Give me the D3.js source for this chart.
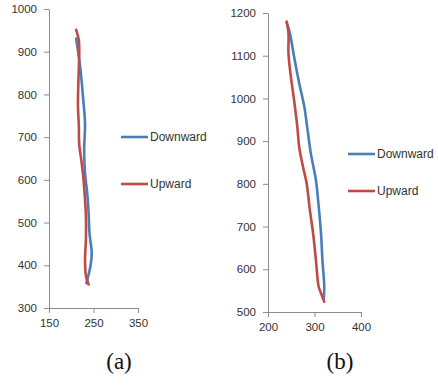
<!DOCTYPE html>
<html>
<head>
<meta charset="utf-8">
<script src="https://cdn.jsdelivr.net/npm/d3@7"></script>
<style>
  body { margin: 0; background: #fff; }
  svg { display: block; }
  .tick text { font-family: "Liberation Sans", Arial, sans-serif; font-size: 11.5px; fill: #333; }
  .legend text { font-family: "Liberation Sans", Arial, sans-serif; font-size: 12px; fill: #333; }
  .caption { font-family: "Liberation Serif", "DejaVu Serif", serif; font-size: 23px; fill: #111; }
</style>
</head>
<body>
<div id="chart"></div>
<script>
// panel (a) data: [x, height]
const aDownward = [[211,931],[220,865],[227,787],[231,732],[229,670],[231,615],[236,568],[239,522],[241,475],[246,428],[243,397],[237,370],[234,358]];
const aUpward = [[211,951],[217,927],[218,904],[216,828],[215,775],[217,728],[218,682],[222,651],[227,607],[231,553],[233,515],[233,461],[231,414],[233,375],[239,355]];
// panel (b) data
const bDownward = [[240,1178],[247,1153],[256,1098],[267,1036],[278,981],[285,927],[292,872],[303,809],[309,747],[314,684],[317,622],[321,559],[320,531]];
const bUpward = [[240,1180],[244,1153],[244,1106],[249,1052],[256,997],[263,934],[267,887],[275,841],[283,802],[290,739],[297,684],[303,622],[309,559],[314,544],[321,524]];

const aXTicks = [150, 250, 350];
const aYTicks = [300, 400, 500, 600, 700, 800, 900, 1000];
const bXTicks = [200, 300, 400];
const bYTicks = [500, 600, 700, 800, 900, 1000, 1100, 1200];
const seriesNames = ["Downward", "Upward"];
const captions = ["(a)", "(b)"];

const colors = {Downward: "#4a7ebb", Upward: "#be4b48"};
const axisColor = "#8c8c8c";

const w = 438, h = 389;
const svg = d3.select("#chart").append("svg").attr("width", w).attr("height", h);

function panel(cfg) {
  const x = d3.scaleLinear().domain(cfg.xDomain).range(cfg.xRange);
  const y = d3.scaleLinear().domain(cfg.yDomain).range(cfg.yRange);

  const g = svg.append("g");

  const yAxis = d3.axisLeft(y).tickValues(cfg.yTicks).tickFormat(d3.format("d"))
    .tickSize(5).tickPadding(7).tickSizeOuter(0);
  g.append("g")
    .attr("transform", "translate(" + cfg.xRange[0] + ",0)")
    .call(yAxis);

  const xAxis = d3.axisBottom(x).tickValues(cfg.xTicks).tickFormat(d3.format("d"))
    .tickSize(5).tickPadding(6).tickSizeOuter(0);
  g.append("g")
    .attr("transform", "translate(0," + cfg.yRange[0] + ")")
    .call(xAxis);

  g.selectAll(".domain").attr("stroke", axisColor);
  g.selectAll(".tick line").attr("stroke", axisColor);

  const line = d3.line()
    .x(d => x(d[0]))
    .y(d => y(d[1]))
    .curve(d3.curveCatmullRom);

  cfg.series.forEach((s, i) => {
    g.append("path")
      .datum(s)
      .attr("fill", "none")
      .attr("stroke", colors[seriesNames[i]])
      .attr("stroke-width", 2.6)
      .attr("stroke-linejoin", "round")
      .attr("stroke-linecap", "round")
      .attr("d", line);
  });

  const leg = g.append("g").attr("class", "legend");
  seriesNames.forEach((name, i) => {
    const ly = cfg.legend[1] + i * cfg.legendGap;
    leg.append("line")
      .attr("x1", cfg.legend[0]).attr("x2", cfg.legend[0] + 27)
      .attr("y1", ly).attr("y2", ly)
      .attr("stroke", colors[name]).attr("stroke-width", 2.6);
    leg.append("text")
      .attr("x", cfg.legend[0] + 29)
      .attr("y", ly + 4)
      .text(name);
  });

  svg.append("text")
    .attr("class", "caption")
    .attr("x", cfg.caption)
    .attr("y", 369)
    .attr("text-anchor", "middle")
    .text(cfg.label);
}

panel({
  xDomain: [150, 350], xRange: [49, 138],
  yDomain: [300, 1000], yRange: [308, 9],
  xTicks: aXTicks, yTicks: aYTicks,
  series: [aDownward, aUpward],
  legend: [121, 137], legendGap: 47,
  caption: 119, label: captions[0]
});

panel({
  xDomain: [200, 400], xRange: [268, 361],
  yDomain: [500, 1200], yRange: [312, 13],
  xTicks: bXTicks, yTicks: bYTicks,
  series: [bDownward, bUpward],
  legend: [348, 154], legendGap: 37,
  caption: 340, label: captions[1]
});
</script>
</body>
</html>
